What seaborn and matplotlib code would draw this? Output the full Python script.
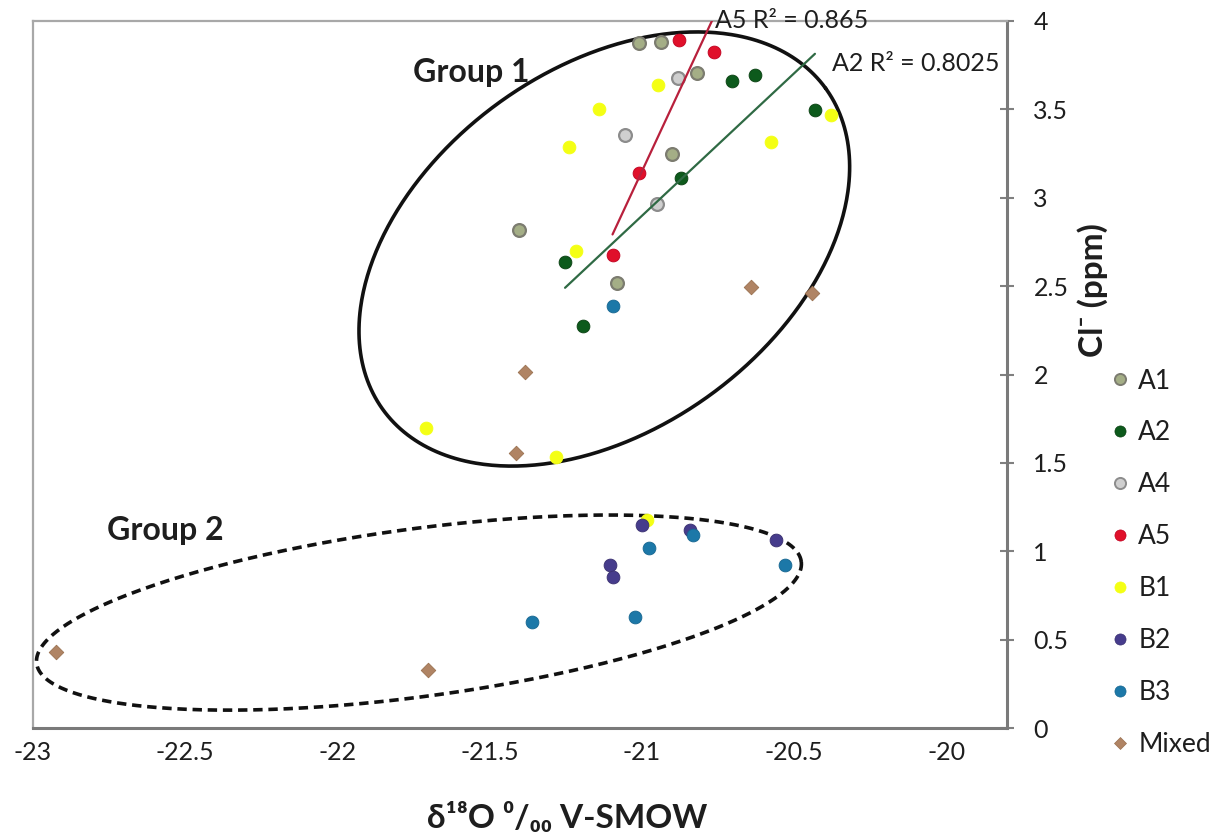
import numpy as np
import pandas as pd
import matplotlib
matplotlib.use("Agg")
import matplotlib.pyplot as plt
from matplotlib.lines import Line2D
import seaborn as sns

# ---------------- data ----------------
a1_x = [-21.008, -20.937, -20.820, -20.899, -21.404, -21.082]
a1_y = [3.875, 3.883, 3.704, 3.248, 2.818, 2.516]

a2_x = [-20.702, -20.627, -20.431, -20.871, -21.252, -21.192]
a2_y = [3.661, 3.694, 3.496, 3.110, 2.638, 2.274]

a4_x = [-20.880, -21.055, -20.951]
a4_y = [3.676, 3.355, 2.965]

a5_x = [-20.877, -20.764, -21.008, -21.096]
a5_y = [3.893, 3.823, 3.142, 2.676]

b1_x = [-20.948, -21.142, -20.379, -21.238, -20.576, -21.216, -21.708, -21.281, -20.982]
b1_y = [3.638, 3.502, 3.468, 3.289, 3.317, 2.700, 1.695, 1.535, 1.177]

b2_x = [-20.998, -20.840, -20.558, -21.103, -21.096]
b2_y = [1.149, 1.120, 1.064, 0.922, 0.854]

b3_x = [-21.096, -20.975, -20.831, -20.529, -21.359, -21.021]
b3_y = [2.388, 1.018, 1.092, 0.922, 0.600, 0.628]

mixed_x = [-20.641, -20.442, -21.385, -21.413, -22.924, -21.702]
mixed_y = [2.497, 2.463, 2.016, 1.558, 0.430, 0.328]

series_names = ["A1", "A2", "A4", "A5", "B1", "B2", "B3", "Mixed"]
series_x = [a1_x, a2_x, a4_x, a5_x, b1_x, b2_x, b3_x, mixed_x]
series_y = [a1_y, a2_y, a4_y, a5_y, b1_y, b2_y, b3_y, mixed_y]

r2_labels = {"A5": "A5 R² = 0.865", "A2": "A2 R² = 0.8025"}

x_ticks = [-23, -22.5, -22, -21.5, -21, -20.5, -20]
y_ticks = [0, 0.5, 1, 1.5, 2, 2.5, 3, 3.5, 4]

# ---------------- styles ----------------
face = {"A1": "#a4ae86", "A2": "#0d5a1c", "A4": "#cfcfcf", "A5": "#e0102a",
        "B1": "#f4ff14", "B2": "#463c8c", "B3": "#1c78a8", "Mixed": "#b08464"}
edge = {"A1": "#7c7c70", "A2": "#0a4012", "A4": "#8c8c8c", "A5": "#c00020",
        "B1": "#f4ff14", "B2": "#3a3070", "B3": "#176690", "Mixed": "#9a7050"}
marker = {k: "o" for k in series_names}
marker["Mixed"] = "D"

rows = []
for name, xs, ys in zip(series_names, series_x, series_y):
    for xv, yv in zip(xs, ys):
        rows.append({"series": name, "d18O": xv, "Cl": yv})
df = pd.DataFrame(rows)

sns.set_style("white")
FONT = ["Lato", "DejaVu Sans"]
plt.rcParams["font.family"] = FONT
TXT = "#1e1e1e"

fig = plt.figure(figsize=(12.19, 8.36), dpi=100)
W, H = 1219, 836
ax = fig.add_axes([33 / W, 108 / H, (1007 - 33) / W, (728 - 21) / H])
ax.set_xlim(-23, -19.8)
ax.set_ylim(0, 4)

for name in series_names:
    sub = df[df["series"] == name]
    sns.scatterplot(data=sub, x="d18O", y="Cl", ax=ax, color=face[name],
                    edgecolor=edge[name], linewidth=1.6 if name in ("A1", "A4") else 0.6,
                    marker=marker[name], s=85 if name != "Mixed" else 55,
                    legend=False, zorder=3)

# trend lines
sub5 = df[df["series"] == "A5"]
sns.regplot(data=sub5, x="d18O", y="Cl", ax=ax, scatter=False, ci=None, truncate=True,
            line_kws=dict(color="#b8203c", lw=1.6, zorder=4))
sub2 = df[df["series"] == "A2"]
sns.regplot(data=sub2, x="d18O", y="Cl", ax=ax, scatter=False, ci=None, truncate=True,
            line_kws=dict(color="#2f6a44", lw=1.6, zorder=4))

# group ellipses (parameters in screen pixels)
fig.canvas.draw()
bb = ax.get_window_extent()
px_x = bb.width / (ax.get_xlim()[1] - ax.get_xlim()[0])
px_y = bb.height / (ax.get_ylim()[1] - ax.get_ylim()[0])


def ellipse_xy(cx, cy, a, b, ang):
    t = np.linspace(0, 2 * np.pi, 500)
    th = np.radians(ang)
    dx = a * np.cos(t) * np.cos(th) - b * np.sin(t) * np.sin(th)
    dy = a * np.cos(t) * np.sin(th) + b * np.sin(t) * np.cos(th)
    return cx + dx / px_x, cy + dy / px_y


ex, ey = ellipse_xy(-21.123, 2.71, 273.5, 180.3, 36.0)
ax.plot(ex, ey, color="#111111", lw=2.6, zorder=2)
ex, ey = ellipse_xy(-21.732, 0.653, 385.7, 83.9, 7.6)
ax.plot(ex, ey, color="#111111", lw=2.6, ls=(0, (2.6, 1.6)), zorder=2)

ax.text(-21.753, 3.711, "Group 1", fontsize=23, fontweight="bold", color=TXT,
        va="center", ha="left")
ax.text(-22.757, 1.120, "Group 2", fontsize=23, fontweight="bold", color=TXT,
        va="center", ha="left")
ax.text(-20.758, 4.0, r2_labels["A5"], fontsize=18, color=TXT, va="center", ha="left",
        clip_on=False, zorder=5)
ax.text(-20.374, 3.757, r2_labels["A2"], fontsize=18, color=TXT, va="center", ha="left",
        clip_on=False, zorder=5)

# axes styling
ax.set_xticks(x_ticks)
ax.set_yticks(y_ticks)
ax.set_xticklabels([f"{v:g}" for v in x_ticks])
ax.set_yticklabels([f"{v:g}" for v in y_ticks])
ax.yaxis.tick_right()
ax.tick_params(axis="x", direction="out", length=5, width=1.5, color="#808080",
               labelsize=18, labelcolor=TXT, pad=4)
ax.tick_params(axis="y", direction="inout", length=10, width=1.5, color="#808080",
               labelsize=18, labelcolor=TXT, pad=14)
for s in ["left", "top"]:
    ax.spines[s].set_color("#a8a8a8")
    ax.spines[s].set_linewidth(1.6)
for s in ["right", "bottom"]:
    ax.spines[s].set_color("#7a7a7a")
    ax.spines[s].set_linewidth(2.2)
ax.set_xlabel("")
ax.set_ylabel("")
ax.grid(False)

fig.text(567 / W, 1 - 818 / H, "δ¹⁸O ⁰/₀₀ V-SMOW", fontsize=24, fontweight="bold",
         color=TXT, ha="center", va="center", family=FONT)
fig.text(1093 / W, 1 - 290 / H, "Cl⁻ (ppm)", fontsize=24, fontweight="bold",
         color=TXT, ha="center", va="center", rotation=90, family=FONT)

handles = [Line2D([], [], ls="", marker=marker[n], markersize=8 if n != "Mixed" else 6.5,
                  markerfacecolor=face[n], markeredgecolor=edge[n],
                  markeredgewidth=1.4 if n in ("A1", "A4") else 0.5) for n in series_names]
fig.legend(handles, series_names, loc="upper left", bbox_to_anchor=(1100 / W, 1 - 358 / H),
           frameon=False, fontsize=19, labelspacing=1.02, handlelength=0.7,
           handletextpad=0.35, borderaxespad=0, labelcolor=TXT)

fig.savefig("out.png", dpi=100)
